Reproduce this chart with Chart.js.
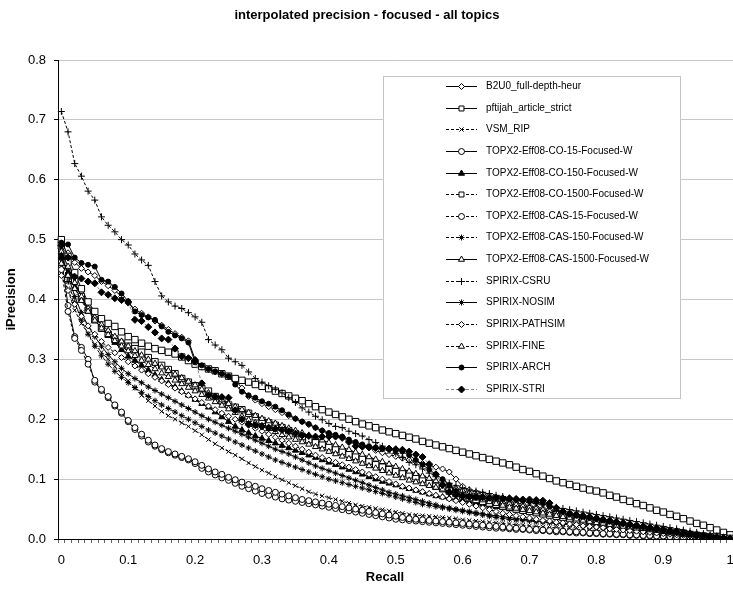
<!DOCTYPE html>
<html>
<head>
<meta charset="utf-8">
<script src="https://cdn.jsdelivr.net/npm/chart.js@4"></script>
<style>
  html, body { margin: 0; background: #fff; overflow: hidden; }
  #wrap { width: 739px; height: 591px; position: relative; }
</style>
</head>
<body>
<div id="wrap"><canvas id="chart"></canvas></div>
<script>
// recall points (categories)
const recall = [0,0.01,0.02,0.03,0.04,0.05,0.06,0.07,0.08,0.09,
  0.1,0.11,0.12,0.13,0.14,0.15,0.16,0.17,0.18,0.19,
  0.2,0.21,0.22,0.23,0.24,0.25,0.26,0.27,0.28,0.29,
  0.3,0.31,0.32,0.33,0.34,0.35,0.36,0.37,0.38,0.39,
  0.4,0.41,0.42,0.43,0.44,0.45,0.46,0.47,0.48,0.49,
  0.5,0.51,0.52,0.53,0.54,0.55,0.56,0.57,0.58,0.59,
  0.6,0.61,0.62,0.63,0.64,0.65,0.66,0.67,0.68,0.69,
  0.7,0.71,0.72,0.73,0.74,0.75,0.76,0.77,0.78,0.79,
  0.8,0.81,0.82,0.83,0.84,0.85,0.86,0.87,0.88,0.89,
  0.9,0.91,0.92,0.93,0.94,0.95,0.96,0.97,0.98,0.99,1];

const yTicks = [0, 0.1, 0.2, 0.3, 0.4, 0.5, 0.6, 0.7, 0.8];

// series values (interpolated precision at each recall point)
const b2u0 = [.485,.478,.462,.452,.446,.440,.430,.423,.415,.405,
  .394,.384,.377,.371,.364,.357,.350,.343,.337,.331,
  .300,.287,.283,.279,.275,.271,.266,.252,.238,.232,
  .226,.221,.216,.211,.206,.201,.196,.191,.186,.181,
  .176,.172,.168,.164,.160,.156,.152,.148,.144,.141,
  .138,.135,.132,.129,.126,.123,.120,.117,.112,.100,
  .088,.082,.078,.075,.072,.069,.066,.063,.060,.058,
  .055,.053,.051,.049,.047,.045,.043,.041,.039,.037,
  .035,.033,.031,.029,.027,.025,.023,.022,.020,.019,
  .017,.015,.014,.012,.010,.008,.007,.005,.004,.002,.001];

const pftijah = [.500,.472,.445,.418,.396,.380,.368,.360,.355,.346,
  .338,.333,.327,.322,.318,.315,.312,.309,.304,.298,
  .292,.288,.284,.281,.276,.272,.268,.265,.262,.258,
  .255,.251,.247,.243,.239,.235,.231,.226,.221,.216,
  .212,.208,.204,.200,.196,.192,.189,.186,.182,.179,
  .176,.173,.170,.167,.163,.160,.157,.154,.151,.148,
  .145,.142,.139,.136,.133,.130,.127,.124,.120,.116,
  .113,.109,.105,.101,.097,.094,.091,.088,.085,.082,
  .080,.077,.073,.070,.066,.063,.059,.056,.052,.048,
  .045,.041,.038,.034,.030,.026,.023,.019,.015,.011,.007];

const vsmRip = [.455,.415,.382,.360,.343,.325,.312,.300,.288,.276,
  .264,.252,.240,.231,.222,.213,.206,.200,.194,.188,
  .181,.174,.166,.159,.152,.146,.140,.134,.127,.121,
  .115,.110,.104,.099,.094,.089,.084,.079,.075,.072,
  .069,.066,.063,.060,.057,.055,.053,.051,.049,.047,
  .045,.043,.041,.040,.039,.038,.037,.036,.035,.034,
  .032,.031,.030,.029,.028,.027,.026,.025,.024,.023,
  .022,.021,.020,.019,.019,.018,.017,.016,.016,.015,
  .014,.014,.013,.012,.011,.011,.010,.009,.009,.008,
  .007,.006,.006,.005,.004,.004,.003,.002,.002,.001,.000];

const co15 = [.470,.390,.338,.320,.300,.262,.248,.236,.222,.210,
  .196,.183,.172,.162,.155,.149,.144,.140,.136,.132,
  .126,.118,.112,.107,.102,.098,.093,.088,.084,.080,
  .076,.073,.070,.067,.065,.063,.061,.059,.057,.055,
  .053,.051,.049,.047,.045,.043,.041,.039,.037,.035,
  .033,.032,.031,.030,.029,.028,.027,.026,.025,.024,
  .023,.022,.021,.020,.019,.018,.018,.017,.016,.016,
  .015,.014,.014,.013,.012,.012,.011,.010,.010,.009,
  .009,.008,.008,.007,.007,.006,.006,.005,.005,.004,
  .004,.003,.003,.003,.002,.002,.001,.001,.001,.000,.000];

const co150 = [.470,.445,.420,.400,.383,.366,.352,.340,.328,.316,
  .305,.298,.290,.282,.274,.266,.260,.254,.247,.240,
  .233,.226,.220,.212,.204,.196,.188,.182,.177,.172,
  .168,.164,.160,.156,.152,.148,.144,.140,.136,.132,
  .128,.124,.120,.116,.112,.108,.104,.100,.096,.093,
  .090,.087,.084,.081,.078,.075,.072,.070,.068,.066,
  .064,.062,.060,.058,.056,.054,.052,.050,.048,.047,
  .045,.044,.042,.041,.039,.038,.036,.035,.033,.032,
  .030,.029,.027,.026,.024,.023,.021,.020,.018,.017,
  .015,.014,.012,.011,.009,.008,.006,.005,.003,.002,.001];

const co1500 = [.490,.462,.432,.405,.382,.366,.352,.342,.334,.327,
  .322,.318,.312,.303,.296,.290,.283,.276,.268,.262,
  .256,.251,.247,.238,.231,.224,.220,.216,.210,.204,
  .198,.194,.190,.186,.181,.176,.171,.166,.162,.158,
  .154,.150,.146,.142,.138,.134,.130,.124,.120,.116,
  .113,.110,.107,.104,.100,.093,.088,.084,.080,.076,
  .072,.069,.066,.063,.060,.058,.055,.053,.050,.048,
  .046,.044,.042,.040,.038,.036,.034,.032,.030,.029,
  .027,.026,.024,.023,.021,.020,.018,.017,.015,.014,
  .012,.011,.010,.009,.007,.006,.005,.004,.003,.002,.001];

const cas15 = [.450,.380,.335,.315,.292,.265,.250,.238,.224,.212,
  .198,.186,.175,.165,.157,.151,.146,.142,.138,.134,
  .129,.123,.117,.112,.108,.103,.099,.095,.091,.088,
  .084,.081,.078,.075,.072,.069,.066,.064,.062,.060,
  .058,.056,.054,.052,.050,.048,.046,.044,.042,.040,
  .038,.036,.034,.033,.032,.031,.030,.029,.028,.027,
  .026,.025,.024,.023,.022,.021,.020,.019,.018,.017,
  .016,.016,.015,.014,.014,.013,.012,.012,.011,.010,
  .010,.009,.009,.008,.008,.007,.007,.006,.006,.005,
  .005,.004,.004,.003,.003,.002,.002,.001,.001,.000,.000];

const cas150 = [.470,.430,.395,.366,.342,.322,.306,.292,.280,.270,
  .261,.253,.245,.238,.231,.224,.218,.212,.206,.200,
  .194,.188,.182,.177,.172,.167,.162,.157,.152,.147,
  .142,.137,.132,.128,.124,.120,.116,.112,.108,.104,
  .100,.097,.094,.091,.088,.085,.082,.079,.076,.073,
  .070,.067,.064,.061,.058,.056,.054,.052,.050,.048,
  .046,.044,.042,.040,.038,.036,.034,.033,.032,.031,
  .030,.029,.028,.027,.026,.025,.024,.023,.022,.021,
  .020,.019,.018,.017,.016,.015,.014,.013,.012,.011,
  .010,.009,.008,.007,.006,.005,.004,.003,.002,.001,.000];

const cas1500 = [.480,.455,.428,.405,.385,.370,.358,.348,.338,.330,
  .322,.314,.307,.300,.293,.287,.281,.275,.269,.263,
  .257,.250,.244,.238,.232,.226,.221,.216,.211,.206,
  .201,.197,.193,.189,.185,.181,.177,.173,.169,.165,
  .161,.157,.153,.149,.145,.141,.137,.133,.129,.125,
  .121,.117,.113,.109,.105,.101,.097,.093,.089,.085,
  .081,.077,.074,.071,.068,.065,.062,.059,.057,.055,
  .053,.051,.049,.047,.045,.043,.041,.039,.037,.035,
  .033,.031,.029,.027,.025,.023,.021,.019,.017,.015,
  .013,.012,.010,.009,.008,.006,.005,.004,.003,.002,.000];

const csru = [.714,.680,.627,.606,.581,.566,.538,.524,.513,.500,
  .491,.476,.466,.457,.430,.406,.396,.389,.385,.378,
  .371,.362,.333,.324,.316,.302,.296,.290,.279,.268,
  .262,.256,.250,.244,.236,.228,.219,.212,.205,.199,
  .193,.188,.186,.180,.176,.172,.166,.161,.155,.148,
  .143,.136,.128,.124,.117,.110,.104,.098,.093,.089,
  .085,.082,.080,.078,.076,.073,.071,.068,.066,.063,
  .061,.059,.057,.055,.053,.051,.049,.047,.045,.043,
  .041,.039,.037,.035,.033,.031,.029,.027,.025,.023,
  .021,.019,.017,.015,.013,.011,.009,.007,.005,.003,.001];

const nosim = [.475,.440,.405,.378,.356,.338,.322,.308,.296,.285,
  .276,.268,.261,.254,.248,.242,.236,.230,.224,.218,
  .212,.206,.200,.195,.190,.185,.180,.175,.170,.165,
  .160,.155,.150,.146,.142,.137,.132,.127,.122,.118,
  .114,.110,.106,.102,.098,.094,.090,.086,.082,.078,
  .075,.072,.069,.066,.063,.060,.057,.054,.052,.050,
  .048,.046,.044,.042,.040,.039,.037,.036,.034,.033,
  .032,.030,.029,.028,.027,.025,.024,.023,.022,.021,
  .020,.019,.018,.017,.016,.015,.014,.013,.012,.011,
  .010,.009,.008,.007,.006,.005,.004,.003,.002,.001,.000];

const pathsim = [.440,.415,.392,.372,.356,.342,.330,.320,.311,.303,
  .296,.289,.282,.276,.270,.264,.258,.252,.246,.240,
  .234,.228,.222,.216,.210,.205,.200,.195,.190,.185,
  .180,.175,.170,.165,.160,.155,.150,.145,.140,.136,
  .132,.128,.124,.120,.116,.112,.108,.104,.100,.096,
  .092,.088,.085,.082,.079,.076,.073,.070,.067,.064,
  .061,.058,.055,.052,.049,.046,.043,.041,.039,.037,
  .035,.033,.031,.030,.028,.027,.025,.024,.022,.021,
  .020,.019,.017,.016,.015,.014,.013,.012,.011,.010,
  .009,.008,.007,.006,.005,.004,.003,.003,.002,.001,.000];

const fine = [.460,.440,.418,.398,.380,.365,.352,.341,.331,.322,
  .314,.306,.298,.291,.284,.277,.271,.265,.259,.253,
  .247,.241,.235,.229,.223,.217,.211,.205,.199,.194,
  .189,.184,.179,.174,.170,.166,.162,.158,.154,.150,
  .146,.142,.138,.134,.130,.126,.122,.118,.114,.110,
  .106,.102,.098,.095,.092,.089,.086,.083,.080,.077,
  .074,.071,.068,.065,.062,.059,.056,.053,.051,.049,
  .047,.045,.043,.041,.039,.037,.035,.033,.031,.029,
  .027,.026,.024,.023,.021,.020,.018,.017,.015,.014,
  .012,.011,.010,.008,.007,.006,.005,.004,.003,.002,.001];

const arch = [.495,.492,.470,.461,.458,.455,.433,.430,.421,.410,
  .397,.380,.374,.370,.366,.355,.346,.340,.335,.328,
  .295,.290,.284,.280,.276,.272,.258,.246,.240,.236,
  .230,.226,.221,.215,.208,.201,.196,.192,.186,.181,
  .177,.174,.171,.166,.162,.158,.155,.153,.151,.150,
  .148,.146,.140,.132,.124,.116,.108,.100,.090,.080,
  .072,.070,.070,.069,.068,.068,.067,.066,.065,.064,
  .063,.062,.060,.055,.050,.046,.043,.041,.039,.037,
  .035,.033,.031,.029,.027,.025,.023,.021,.019,.017,
  .015,.013,.012,.010,.009,.007,.006,.004,.003,.002,.000];

const stri = [.490,.470,.438,.435,.430,.427,.412,.408,.402,.399,
  .396,.366,.364,.354,.345,.335,.333,.318,.305,.302,
  .298,.260,.240,.238,.237,.236,.215,.200,.192,.190,
  .188,.186,.184,.182,.180,.176,.173,.172,.171,.171,
  .171,.171,.170,.162,.155,.154,.153,.152,.151,.151,
  .150,.149,.146,.141,.137,.125,.108,.090,.078,.074,
  .072,.071,.070,.070,.069,.069,.068,.068,.067,.066,
  .066,.065,.064,.060,.052,.046,.042,.040,.038,.036,
  .034,.032,.030,.028,.026,.024,.022,.020,.018,.016,
  .014,.012,.011,.009,.008,.006,.005,.003,.002,.001,.000];

const seriesNames = [
  'B2U0_full-depth-heur', 'pftijah_article_strict', 'VSM_RIP',
  'TOPX2-Eff08-CO-15-Focused-W', 'TOPX2-Eff08-CO-150-Focused-W', 'TOPX2-Eff08-CO-1500-Focused-W',
  'TOPX2-Eff08-CAS-15-Focused-W', 'TOPX2-Eff08-CAS-150-Focused-W', 'TOPX2-Eff08-CAS-1500-Focused-W',
  'SPIRIX-CSRU', 'SPIRIX-NOSIM', 'SPIRIX-PATHSIM', 'SPIRIX-FINE', 'SPIRIX-ARCH', 'SPIRIX-STRI'
];
const seriesValues = [b2u0, pftijah, vsmRip, co15, co150, co1500, cas15, cas150, cas1500,
  csru, nosim, pathsim, fine, arch, stri];

// look of each series: marker, marker fill, marker radius, dashed line, line colour
const looks = [
  { marker: 'rectRot',  fill: '#fff', r: 3,   dash: false, color: '#000' },
  { marker: 'rect',     fill: '#fff', r: 4.5, dash: false, color: '#000' },
  { marker: 'crossRot', fill: '#000', r: 3,   dash: true,  color: '#000' },
  { marker: 'circle',   fill: '#fff', r: 3,   dash: false, color: '#000' },
  { marker: 'triangle', fill: '#000', r: 3.5, dash: false, color: '#000' },
  { marker: 'rect',     fill: '#fff', r: 4.5, dash: true,  color: '#000' },
  { marker: 'circle',   fill: '#fff', r: 3,   dash: true,  color: '#000' },
  { marker: 'star',     fill: '#000', r: 3,   dash: true,  color: '#000' },
  { marker: 'triangle', fill: '#fff', r: 3.5, dash: false, color: '#000' },
  { marker: 'cross',    fill: '#000', r: 3.5, dash: true,  color: '#000' },
  { marker: 'star',     fill: '#000', r: 3,   dash: false, color: '#000' },
  { marker: 'rectRot',  fill: '#fff', r: 3,   dash: true,  color: '#000' },
  { marker: 'triangle', fill: '#fff', r: 3.5, dash: true,  color: '#000' },
  { marker: 'circle',   fill: '#000', r: 2.5, dash: false, color: '#000' },
  { marker: 'rectRot',  fill: '#000', r: 3.5, dash: true,  color: '#888' }
];

const FONT = "'Liberation Sans', Arial, sans-serif";

const datasets = seriesValues.map(function (vals, i) {
  const lk = looks[i];
  return {
    label: seriesNames[i],
    data: vals,
    borderColor: lk.color,
    borderWidth: 1,
    borderDash: lk.dash ? [3, 2] : [],
    pointStyle: lk.marker,
    pointRadius: lk.r,
    pointBorderWidth: 1,
    pointBorderColor: '#000',
    pointBackgroundColor: lk.fill,
    tension: 0,
    fill: false,
    order: seriesValues.length - i
  };
});

// legend box drawn inside the plot, plus the title and x axis title
const boxLegend = {
  id: 'boxLegend',
  afterDatasetsDraw(chart) {
    const ctx = chart.ctx;
    const left = 383, top = 76, w = 297, h = 322;
    ctx.save();
    ctx.fillStyle = '#fff';
    ctx.fillRect(left, top, w, h);
    ctx.strokeStyle = '#c4c4c4';
    ctx.lineWidth = 1;
    ctx.strokeRect(left + 0.5, top + 0.5, w, h);
    ctx.font = '10px ' + FONT;
    ctx.textBaseline = 'middle';
    seriesNames.forEach(function (name, i) {
      const lk = looks[i];
      const y = Math.round(86 + i * 21.64) + 0.5;
      ctx.strokeStyle = lk.color;
      ctx.lineWidth = 1;
      ctx.setLineDash(lk.dash ? [3, 2] : []);
      ctx.beginPath();
      ctx.moveTo(446, y);
      ctx.lineTo(477, y);
      ctx.stroke();
      ctx.setLineDash([]);
      ctx.strokeStyle = '#000';
      ctx.fillStyle = lk.fill;
      Chart.helpers.drawPoint(ctx, { pointStyle: lk.marker, radius: Math.min(lk.r, 3.5), borderWidth: 1, rotation: 0 }, 461.5, y);
      ctx.fillStyle = '#000';
      ctx.fillText(name, 486, y);
    });
    ctx.textAlign = 'center';
    ctx.font = 'bold 13px ' + FONT;
    ctx.fillText('Recall', 385, 577);
    ctx.fillText('interpolated precision - focused - all topics', 367, 15);
    ctx.restore();
  }
};

const ctx = document.getElementById('chart').getContext('2d');
const precisionChart = new Chart(ctx, {
  type: 'line',
  data: { labels: recall, datasets: datasets },
  options: {
    responsive: true,
    maintainAspectRatio: false,
    animation: false,
    layout: { padding: { top: 60, left: 0, right: 0, bottom: 0 } },
    plugins: {
      legend: { display: false },
      tooltip: { enabled: false },
      title: { display: false }
    },
    scales: {
      x: {
        type: 'category',
        offset: true,
        afterFit: function (scale) {
          scale.height = 52;
          scale.paddingLeft = 0;
          scale.paddingRight = 0;
        },
        border: { color: '#000', width: 1 },
        grid: { display: true, drawOnChartArea: false, offset: true, tickLength: 4, tickColor: '#666' },
        ticks: {
          autoSkip: false,
          maxRotation: 0,
          padding: 10,
          color: '#000',
          font: { family: FONT, size: 13 },
          callback: function (v, i) { return i % 10 === 0 ? String(recall[i]) : ''; }
        }
      },
      y: {
        min: yTicks[0],
        max: yTicks[yTicks.length - 1],
        afterFit: function (scale) { scale.width = 58; },
        afterBuildTicks: function (scale) { scale.ticks = yTicks.map(function (v) { return { value: v }; }); },
        border: { color: '#000', width: 1 },
        grid: { color: '#c8c8c8', tickColor: '#000', tickLength: 4 },
        ticks: {
          padding: 8,
          color: '#000',
          font: { family: FONT, size: 13 },
          callback: function (v) { return Number(v).toFixed(1); }
        },
        title: {
          display: true,
          text: 'iPrecision',
          color: '#000',
          font: { family: FONT, size: 13, weight: 'bold' },
          padding: { top: 4, bottom: 0 }
        }
      }
    }
  },
  plugins: [boxLegend]
});
</script>
</body>
</html>
